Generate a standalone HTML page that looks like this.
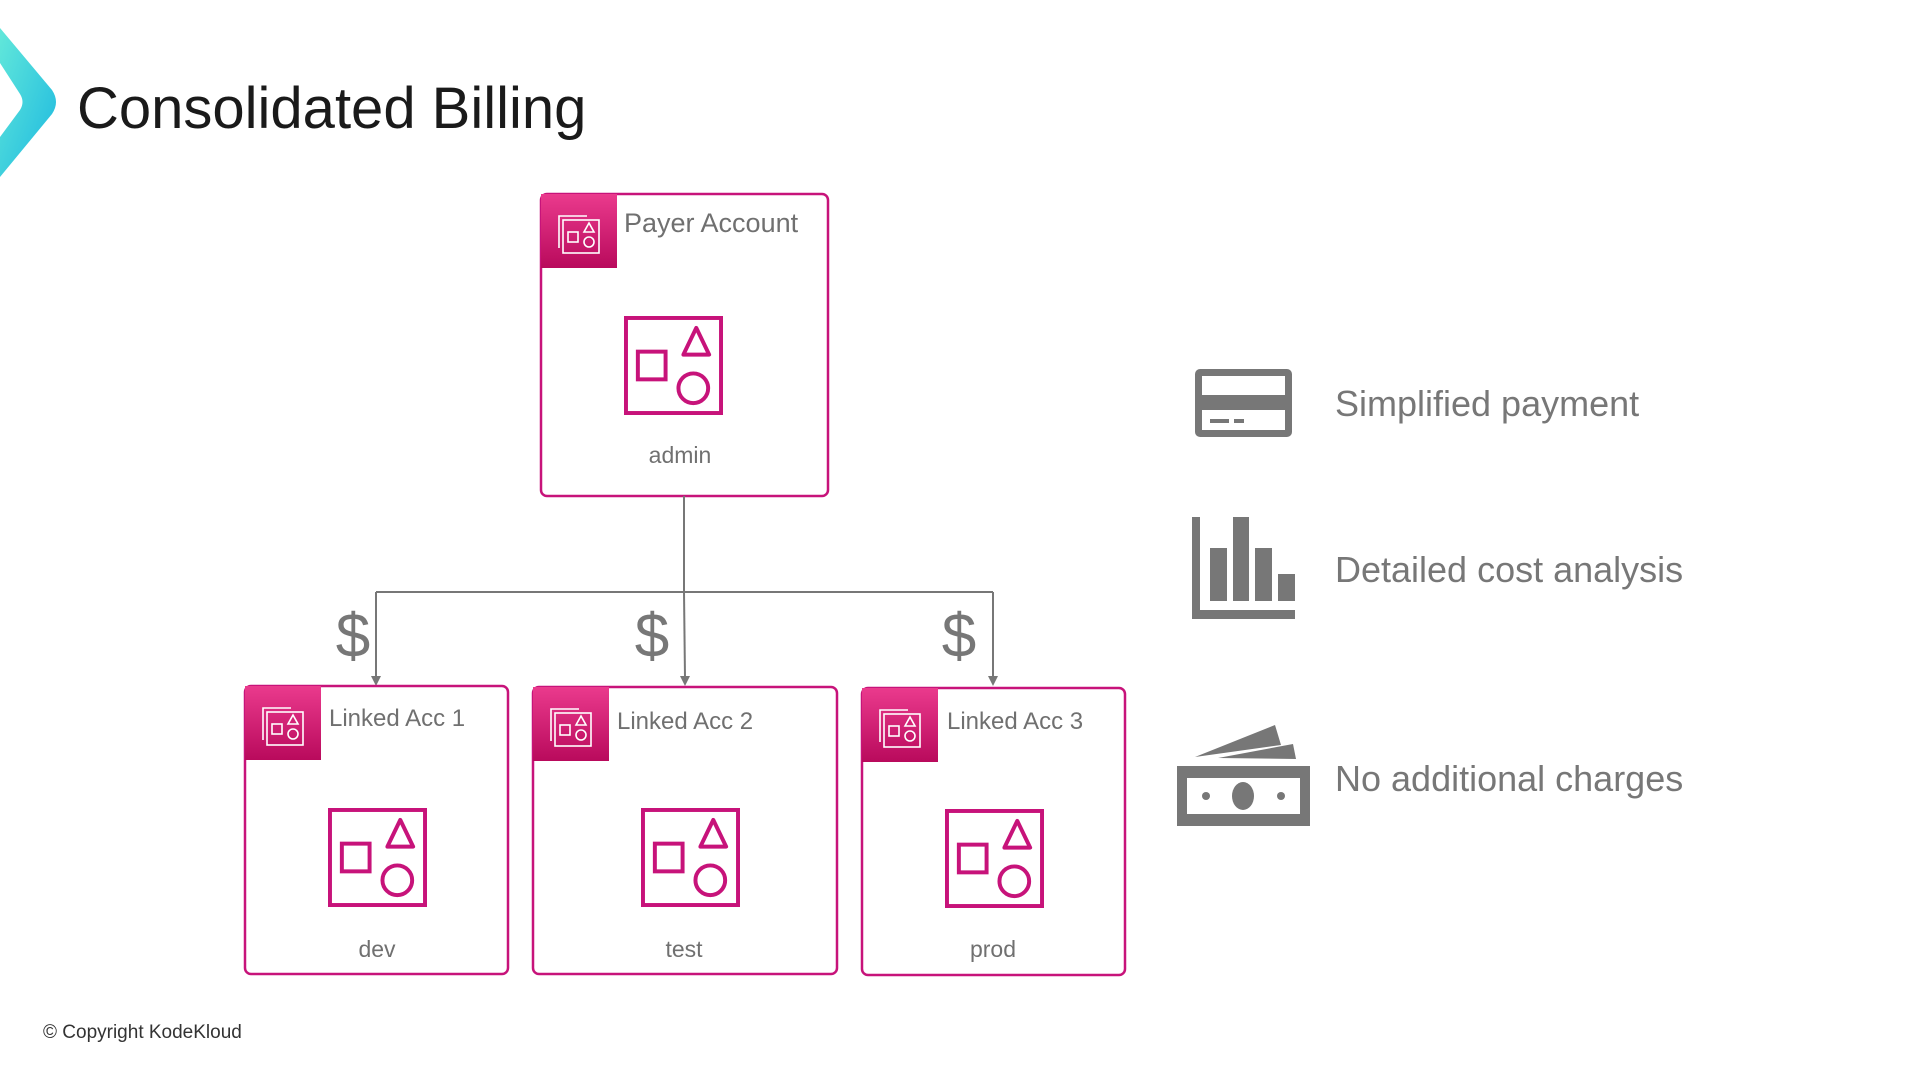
<!DOCTYPE html>
<html><head><meta charset="utf-8"><style>
html,body{margin:0;padding:0;background:#fff;}
svg{display:block;}
text{font-family:"Liberation Sans",sans-serif;}
</style></head><body>
<svg width="1920" height="1080" viewBox="0 0 1920 1080" xmlns="http://www.w3.org/2000/svg">
<defs>
<linearGradient id="tl" x1="0" y1="0" x2="1" y2="1"><stop offset="0" stop-color="#62e8da"/><stop offset="1" stop-color="#1cb8e0"/></linearGradient>
<linearGradient id="pk" x1="0" y1="0" x2="0" y2="1"><stop offset="0" stop-color="#ea3a8d"/><stop offset="1" stop-color="#b90a5c"/></linearGradient>
<symbol id="big" viewBox="0 0 100 100">
<rect x="2" y="2" width="96" height="96" fill="none" stroke="#c7137a" stroke-width="4"/>
<rect x="14" y="36" width="28" height="28" fill="none" stroke="#c7137a" stroke-width="4"/>
<path d="M73,12 L86,39 L60,39 Z" fill="none" stroke="#c7137a" stroke-width="4" stroke-linejoin="round"/>
<circle cx="70" cy="73" r="15" fill="none" stroke="#c7137a" stroke-width="4"/>
</symbol>
<symbol id="hdr" viewBox="0 0 76 74">
<rect width="76" height="74" fill="url(#pk)"/>
<path d="M18,54 V22 H46" fill="none" stroke="#fff" stroke-width="1.6"/>
<rect x="22" y="26" width="36" height="33" fill="none" stroke="#fff" stroke-width="1.6"/>
<rect x="27" y="38" width="10" height="10" fill="none" stroke="#fff" stroke-width="1.6"/>
<path d="M48,29 L53,38 L43,38 Z" fill="none" stroke="#fff" stroke-width="1.6"/>
<circle cx="48" cy="48" r="5" fill="none" stroke="#fff" stroke-width="1.6"/>
</symbol>
</defs>
<path d="M0,28 L52,90 Q60,102 52,114 L0,177 L0,137 L20,110 Q25,102 20,94 L0,63 Z" fill="url(#tl)"/>
<text x="77" y="128" font-size="58" fill="#1a1a1a">Consolidated Billing</text>

<!-- payer -->
<rect x="541" y="194" width="287" height="302" rx="6" fill="#fff" stroke="#c7137a" stroke-width="2.5"/>
<use href="#hdr" x="541" y="194" width="76" height="74"/>
<text x="624" y="232" font-size="27" fill="#707070">Payer Account</text>
<use href="#big" x="624" y="316" width="99" height="99"/>
<text x="680" y="463" font-size="23" fill="#707070" text-anchor="middle">admin</text>

<!-- connectors -->
<path d="M684,496 V592" stroke="#777" stroke-width="2" fill="none"/>
<path d="M376,592 H993" stroke="#777" stroke-width="2" fill="none"/>
<path d="M376,592 V678" stroke="#777" stroke-width="2" fill="none"/>
<path d="M684,592 L685,678" stroke="#777" stroke-width="2" fill="none"/>
<path d="M993,592 V678" stroke="#777" stroke-width="2" fill="none"/>
<path d="M371,676 L381,676 L376,686 Z" fill="#777"/>
<path d="M680,676 L690,676 L685,686 Z" fill="#777"/>
<path d="M988,676 L998,676 L993,686 Z" fill="#777"/>
<text x="353" y="657" font-size="62" fill="#777" text-anchor="middle">$</text>
<text x="652" y="657" font-size="62" fill="#777" text-anchor="middle">$</text>
<text x="959" y="657" font-size="62" fill="#777" text-anchor="middle">$</text>

<!-- linked -->
<rect x="245" y="686" width="263" height="288" rx="6" fill="#fff" stroke="#c7137a" stroke-width="2.5"/>
<use href="#hdr" x="245" y="686" width="76" height="74"/>
<text x="329" y="726" font-size="24" fill="#707070">Linked Acc 1</text>
<use href="#big" x="328" y="808" width="99" height="99"/>
<text x="377" y="957" font-size="23" fill="#707070" text-anchor="middle">dev</text>

<rect x="533" y="687" width="304" height="287" rx="6" fill="#fff" stroke="#c7137a" stroke-width="2.5"/>
<use href="#hdr" x="533" y="687" width="76" height="74"/>
<text x="617" y="729" font-size="24" fill="#707070">Linked Acc 2</text>
<use href="#big" x="641" y="808" width="99" height="99"/>
<text x="684" y="957" font-size="23" fill="#707070" text-anchor="middle">test</text>

<rect x="862" y="688" width="263" height="287" rx="6" fill="#fff" stroke="#c7137a" stroke-width="2.5"/>
<use href="#hdr" x="862" y="688" width="76" height="74"/>
<text x="947" y="729" font-size="24" fill="#707070">Linked Acc 3</text>
<use href="#big" x="945" y="809" width="99" height="99"/>
<text x="993" y="957" font-size="23" fill="#707070" text-anchor="middle">prod</text>

<!-- right icons -->
<rect x="1195" y="369" width="97" height="68" rx="5" fill="#777"/>
<rect x="1202" y="376" width="83" height="19" fill="#fff"/>
<rect x="1202" y="410" width="83" height="20" fill="#fff"/>
<rect x="1210" y="419" width="19" height="4" fill="#777"/>
<rect x="1234" y="419" width="10" height="4" fill="#777"/>
<text x="1335" y="416" font-size="36" fill="#777">Simplified payment</text>

<rect x="1192" y="517" width="8" height="102" fill="#777"/>
<rect x="1192" y="610" width="103" height="9" fill="#777"/>
<rect x="1210" y="548" width="17" height="53" fill="#777"/>
<rect x="1233" y="517" width="16" height="84" fill="#777"/>
<rect x="1255" y="548" width="17" height="53" fill="#777"/>
<rect x="1278" y="574" width="17" height="27" fill="#777"/>
<text x="1335" y="582" font-size="36" fill="#777">Detailed cost analysis</text>

<path d="M1195,757 L1275,725 L1281,745 Z" fill="#777"/>
<path d="M1218,758 L1293,744 L1296,759 Z" fill="#777"/>
<rect x="1177" y="766" width="133" height="60" fill="#777"/>
<path d="M1187,778 L1300,778 L1300,814 L1187,814 Z" fill="#fff"/>
<ellipse cx="1243" cy="796" rx="11" ry="14" fill="#777"/>
<circle cx="1206" cy="796" r="4" fill="#777"/>
<circle cx="1281" cy="796" r="4" fill="#777"/>
<text x="1335" y="791" font-size="36" fill="#777">No additional charges</text>

<text x="43" y="1038" font-size="19" fill="#333">© Copyright KodeKloud</text>
</svg>
</body></html>
